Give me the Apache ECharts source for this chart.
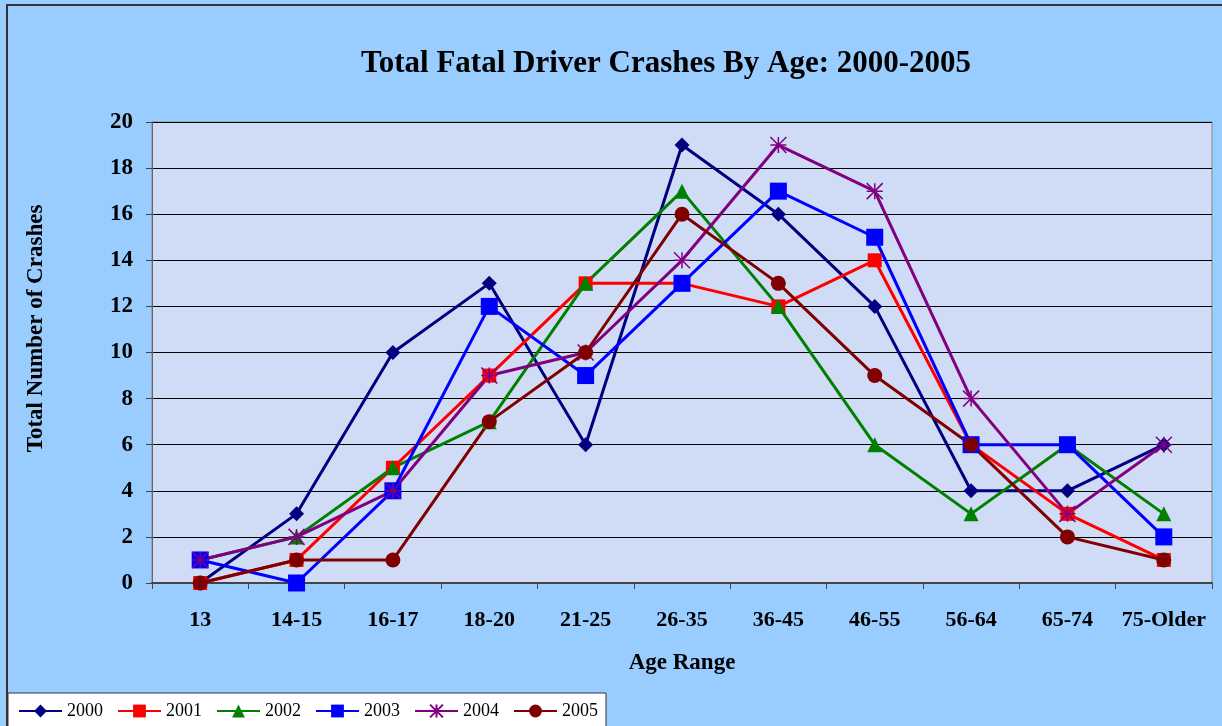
<!DOCTYPE html>
<html>
<head>
<meta charset="utf-8">
<title>Total Fatal Driver Crashes By Age: 2000-2005</title>
<script src="https://cdn.jsdelivr.net/npm/echarts@6/dist/echarts.min.js"></script>
<style>
  html, body { margin: 0; padding: 0; background: #fff; }
  #chart { width: 1222px; height: 726px; }
</style>
</head>
<body>
<div id="chart"></div>
<script>
'use strict';

// age ranges on the x axis
const categories = ['13', '14-15', '16-17', '18-20', '21-25', '26-35', '36-45', '46-55', '56-64', '65-74', '75-Older'];

// crash counts per year
const y2000 = [0, 3, 10, 13, 6, 19, 16, 12, 4, 4, 6];
const y2001 = [0, 1, 5, 9, 13, 13, 12, 14, 6, 3, 1];
const y2002 = [1, 2, 5, 7, 13, 17, 12, 6, 3, 6, 3];
const y2003 = [1, 0, 4, 12, 9, 13, 17, 15, 6, 6, 2];
const y2004 = [1, 2, 4, 9, 10, 14, 19, 17, 8, 3, 6];
const y2005 = [0, 1, 1, 7, 10, 16, 13, 9, 6, 2, 1];

const yTicks = { min: 0, max: 20, interval: 2 };

const serif = '"Liberation Serif", "Times New Roman", serif';
const asterisk = 'path://M0,0L10,10M10,0L0,10M5,0L5,10M0,5L10,5';

function makeSeries(name, data, color, symbol, size, extra) {
    return Object.assign({
        name: name,
        type: 'line',
        data: data,
        symbol: symbol,
        symbolSize: size,
        showAllSymbol: true,
        lineStyle: { color: color, width: 3 },
        itemStyle: { color: color },
        emphasis: { disabled: true },
        animation: false
    }, extra || {});
}

let myChart = echarts.init(document.getElementById('chart'));
myChart.setOption({
    backgroundColor: '#99CCFF',
    animation: false,
    graphic: [{
        type: 'rect',
        shape: { x: 7, y: 5, width: 1230, height: 740 },
        style: { fill: 'none', stroke: '#333', lineWidth: 2 },
        silent: true,
        z: 100
    }],
    title: {
        text: 'Total Fatal Driver Crashes By Age: 2000-2005',
        left: 661,
        top: 43,
        textAlign: 'center',
        textStyle: { fontFamily: serif, fontSize: 31, fontWeight: 'bold', color: '#000' }
    },
    grid: {
        left: 152, top: 122, right: 10, bottom: 143,
        show: true,
        backgroundColor: '#D0DCF6',
        borderColor: '#888',
        borderWidth: 1
    },
    legend: {
        left: 8,
        top: 693,
        padding: [9, 8, 9, 10],
        backgroundColor: '#fff',
        borderColor: '#333',
        borderWidth: 1,
        borderRadius: 0,
        itemWidth: 43,
        itemHeight: 16,
        itemGap: 14,
        textStyle: { fontFamily: serif, fontSize: 18, color: '#000' },
        data: ['2000', '2001', '2002', '2003', '2004', '2005']
    },
    xAxis: {
        type: 'category',
        data: categories,
        boundaryGap: true,
        name: 'Age Range',
        nameLocation: 'middle',
        nameGap: 69,
        nameTextStyle: { fontFamily: serif, fontSize: 23, fontWeight: 'bold', color: '#000' },
        axisLine: { lineStyle: { color: '#444', width: 2 } },
        axisTick: { show: true, length: 6, lineStyle: { color: '#444', width: 1 } },
        axisLabel: { interval: 0, margin: 26, fontFamily: serif, fontSize: 22, fontWeight: 'bold', color: '#000' }
    },
    yAxis: {
        type: 'value',
        min: yTicks.min,
        max: yTicks.max,
        interval: yTicks.interval,
        name: 'Total Number of Crashes',
        nameLocation: 'middle',
        nameGap: 104,
        nameTextStyle: { fontFamily: serif, fontSize: 23, fontWeight: 'bold', color: '#000', padding: [0, 0, 0, 48] },
        axisLine: { show: true, lineStyle: { color: '#666', width: 1 } },
        axisTick: { show: true, length: 6, lineStyle: { color: '#444' } },
        axisLabel: { margin: 19, fontFamily: serif, fontSize: 23, fontWeight: 'bold', color: '#000' },
        splitLine: { lineStyle: { color: '#000', width: 1 } }
    },
    series: [
        makeSeries('2000', y2000, '#000080', 'diamond', 15),
        makeSeries('2001', y2001, '#FF0000', 'rect', 14),
        makeSeries('2002', y2002, '#008000', 'triangle', 15),
        makeSeries('2003', y2003, '#0000FF', 'rect', 17),
        makeSeries('2004', y2004, '#800080', asterisk, 16, {
            itemStyle: { color: 'rgba(0,0,0,0)', borderColor: '#800080', borderWidth: 1.5 }
        }),
        makeSeries('2005', y2005, '#800000', 'circle', 15)
    ]
}, true);
</script>
</body>
</html>
